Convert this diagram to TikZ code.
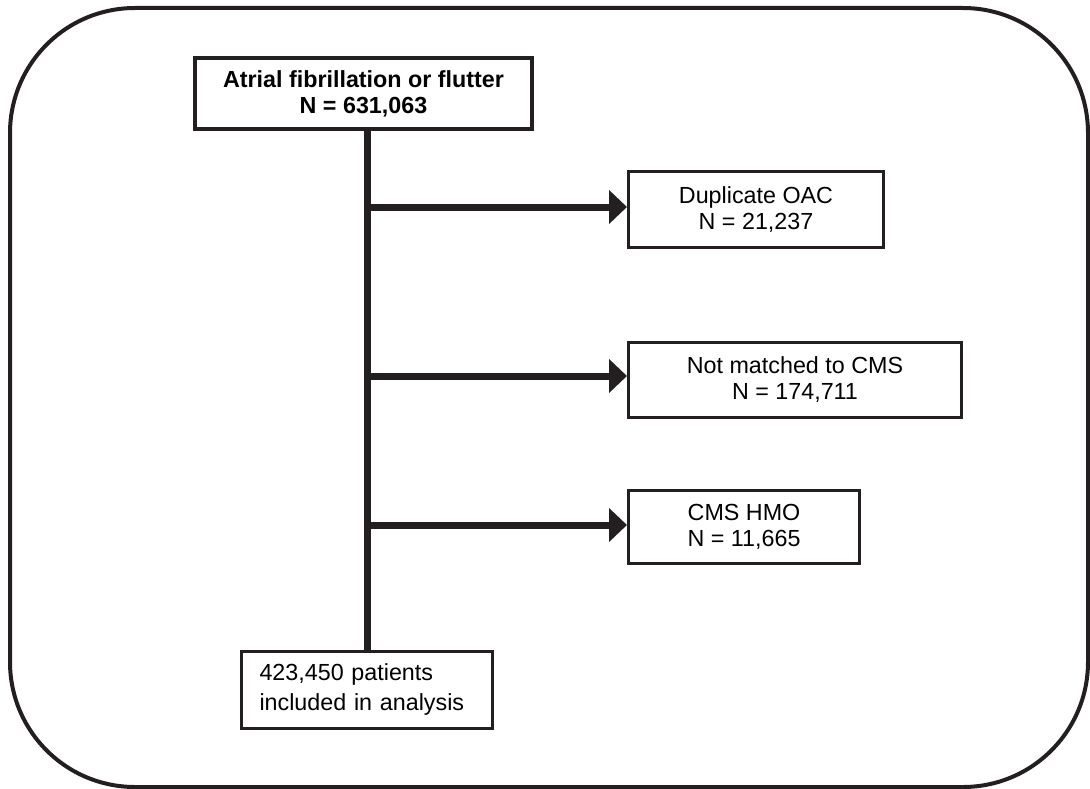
\documentclass[tikz,border=0pt]{standalone}
\usepackage{fontspec}
\setmainfont{Liberation Sans}
\usetikzlibrary{positioning, arrows.meta}
\definecolor{ink}{HTML}{231F20}

\begin{document}
\begin{tikzpicture}[
    x=1pt, y=-1pt,
    font=\fontsize{23.3}{26}\selectfont,
    block/.style={rectangle, draw=ink, line width=3pt, fill=white, align=center, inner sep=0pt, minimum height=75pt},
    arrow/.style={-{Triangle[length=18pt, width=33pt]}, line width=7pt, draw=ink},
    trunk/.style={line width=7pt, draw=ink}
]

% Frame
\useasboundingbox (0,0) rectangle (1090,789);
\draw [line width=4pt, draw=ink, rounded corners=125pt] (10,8) rectangle (1088,787);

% Nodes
\node (AFib) [block, line width=3.5pt, minimum width=337pt, minimum height=71pt, font=\fontsize{23.3}{26}\selectfont\bfseries] at (363.5,93.5) {Atrial fibrillation or flutter\\N = 631,063};

\node (Duplicate) [block, anchor=west, minimum width=255pt] at (627,209.5) {Duplicate OAC\\N = 21,237};
\node (NotMatched) [block, anchor=west, minimum width=333pt] at (627,379.5) {Not matched to CMS\\N = 174,711};
\node (HMO) [block, anchor=west, minimum width=231pt, minimum height=73pt] at (627,526.5) {CMS HMO\\N = 11,665};

\node (Included) [block, align=left, text width=215pt, inner xsep=18pt, minimum height=77pt, font=\fontsize{23.3}{30}\selectfont] at (367,689.5) {423,450 patients\\included in analysis};

% Splits on the trunk
\coordinate (SplitA) at (367,207);
\coordinate (SplitB) at (367,376);
\coordinate (SplitC) at (367,525);

% Arrows
\draw [trunk] (AFib.south -| Included.north) -- (Included.north);
\draw [arrow] (SplitA) -- (SplitA -| Duplicate.west);
\draw [arrow] (SplitB) -- (SplitB -| NotMatched.west);
\draw [arrow] (SplitC) -- (SplitC -| HMO.west);

\end{tikzpicture}
\end{document}
